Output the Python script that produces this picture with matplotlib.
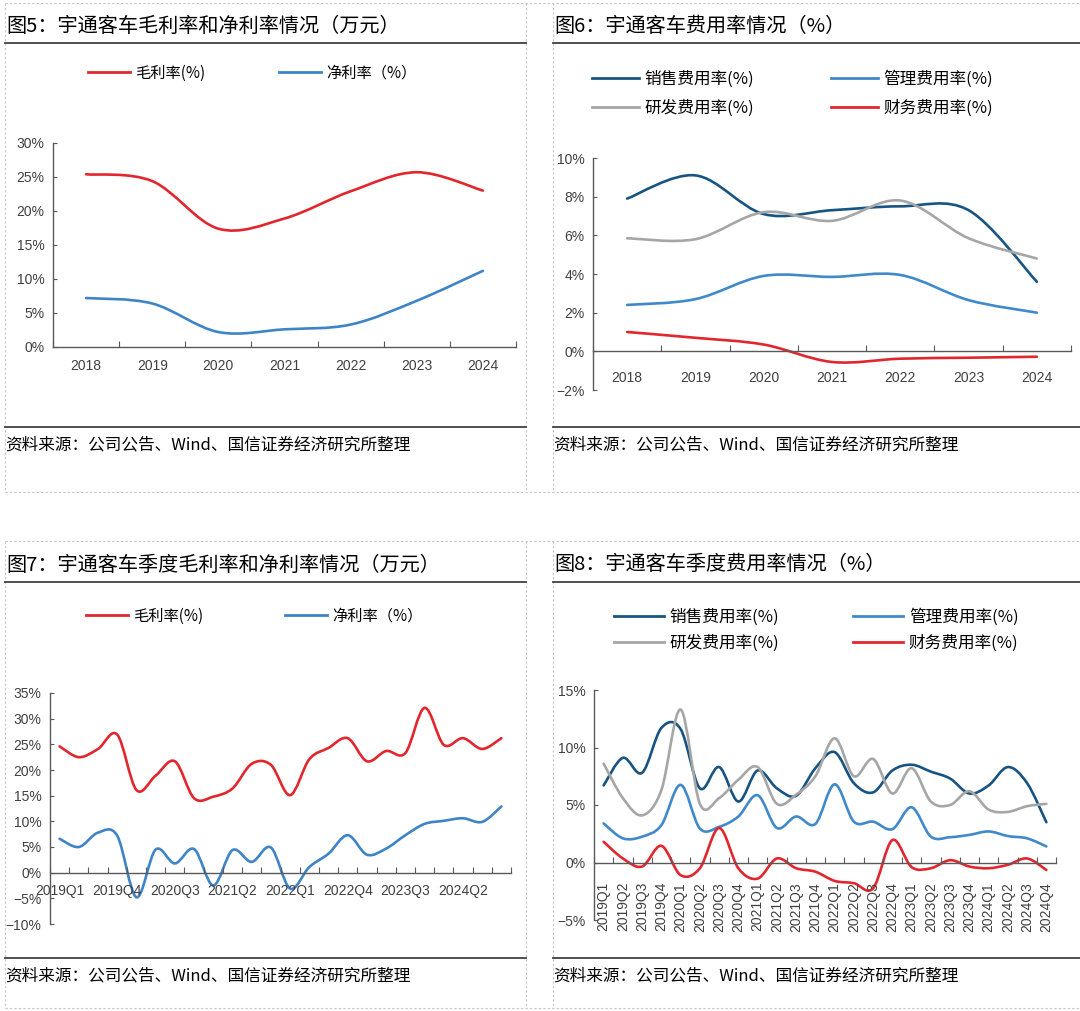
import numpy as np
import matplotlib
matplotlib.use('Agg')
import matplotlib.pyplot as plt
from matplotlib.path import Path
from matplotlib.patches import PathPatch
from matplotlib.lines import Line2D
from matplotlib.ticker import FuncFormatter

plt.rcParams['font.family'] = ['Liberation Sans', 'Noto Sans CJK SC']
CJK = ['Noto Sans CJK SC', 'DejaVu Sans']

# ---- data (percent) ----
years = ['2018', '2019', '2020', '2021', '2022', '2023', '2024']
gross_margin = [25.4, 24.4, 17.4, 18.9, 22.9, 25.7, 23.0]
net_margin = [7.2, 6.4, 2.2, 2.6, 3.3, 6.8, 11.2]

sales_exp = [7.9, 9.1, 7.1, 7.3, 7.5, 7.3, 3.6]
admin_exp = [2.4, 2.7, 3.9, 3.85, 3.95, 2.65, 2.0]
rd_exp = [5.85, 5.8, 7.2, 6.75, 7.8, 5.85, 4.8]
fin_exp = [1.0, 0.7, 0.35, -0.55, -0.38, -0.33, -0.28]

quarters = ['2019Q1', '2019Q2', '2019Q3', '2019Q4', '2020Q1', '2020Q2', '2020Q3', '2020Q4',
            '2021Q1', '2021Q2', '2021Q3', '2021Q4', '2022Q1', '2022Q2', '2022Q3', '2022Q4',
            '2023Q1', '2023Q2', '2023Q3', '2023Q4', '2024Q1', '2024Q2', '2024Q3', '2024Q4']
q_gross = [24.6, 22.5, 24.1, 26.9, 16.1, 18.9, 21.7, 14.5, 14.8, 16.4, 21.2, 21.0,
           15.1, 22.1, 24.3, 26.2, 21.7, 23.7, 23.3, 32.1, 24.9, 26.2, 24.1, 26.2]
q_net = [6.6, 5.0, 7.8, 7.2, -4.8, 4.5, 1.8, 4.6, -2.5, 4.4, 2.1, 4.9,
         -3.1, 1.1, 3.7, 7.3, 3.5, 4.7, 7.3, 9.5, 10.1, 10.6, 9.9, 12.9]

q_sales = [6.7, 9.1, 7.8, 11.7, 11.6, 6.45, 8.3, 5.3, 8.0, 6.45, 5.8, 8.2,
           9.6, 6.9, 6.1, 8.0, 8.5, 7.9, 7.3, 6.0, 6.7, 8.3, 6.9, 3.5]
q_admin = [3.4, 2.1, 2.25, 3.25, 6.75, 2.95, 3.1, 4.0, 5.85, 3.0, 4.0, 3.35,
           6.8, 3.55, 3.55, 2.9, 4.8, 2.25, 2.2, 2.4, 2.7, 2.3, 2.1, 1.4]
q_rd = [8.6, 5.6, 4.1, 6.3, 13.3, 5.1, 5.6, 7.2, 8.3, 5.1, 5.9, 7.5,
        10.8, 7.5, 9.0, 6.0, 8.2, 5.3, 5.0, 6.2, 4.6, 4.4, 4.9, 5.1]
q_fin = [1.8, 0.35, -0.35, 1.45, -1.1, -0.5, 3.0, -0.5, -1.4, 0.35, -0.5, -0.8,
         -1.6, -1.8, -2.25, 1.95, -0.4, -0.5, 0.2, -0.35, -0.5, -0.2, 0.35, -0.65]

RED = '#E2262E'
BLUE = '#3F84C7'
NAVY = '#185482'
LBLUE = '#4089CB'
GRAY = '#A6A6A6'
AXC = '#595959'
TXT = '#404040'

W, H = 1080, 1011
fig = plt.figure(figsize=(W / 100, H / 100), dpi=100)


def fx(px):
    return px / W


def fy(py):
    return 1 - py / H


def make_axes(x0, x1, ytop, ybot):
    return fig.add_axes([fx(x0), fy(ybot), (x1 - x0) / W, (ybot - ytop) / H])


# excel style smoothed line (catmull-rom as bezier)
def smooth_line(ax, ys, color, lw=1.9):
    pts = np.column_stack([np.arange(len(ys)), ys]).astype(float)
    n = len(pts)
    verts = [pts[0]]
    codes = [Path.MOVETO]
    for i in range(n - 1):
        p0 = pts[i - 1] if i > 0 else pts[i]
        p1 = pts[i]
        p2 = pts[i + 1]
        p3 = pts[i + 2] if i + 2 < n else pts[i + 1]
        verts += [p1 + (p2 - p0) / 6, p2 - (p3 - p1) / 6, p2]
        codes += [Path.CURVE4] * 3
    ax.add_patch(PathPatch(Path(verts, codes), facecolor='none', edgecolor=color,
                           lw=lw, capstyle='round', joinstyle='round'))


def setup(ax, cats, ylo, yhi, ystep, every=1, rot=0, xpad=4):
    n = len(cats)
    ax.set_xlim(-0.5, n - 0.5)
    ax.set_ylim(ylo, yhi)
    for s in ['top', 'right']:
        ax.spines[s].set_visible(False)
    for s in ['left', 'bottom']:
        ax.spines[s].set_color(AXC)
        ax.spines[s].set_linewidth(1.0)
    ax.spines['bottom'].set_position(('data', 0))
    ax.set_yticks(np.arange(ylo, yhi + 0.01, ystep))
    ax.yaxis.set_major_formatter(FuncFormatter(lambda v, p: ('%d%%' % round(v)).replace('-', '\u2212')))
    ax.tick_params(axis='y', direction='in', length=3, color=AXC, labelsize=10,
                   labelcolor=TXT, pad=6)
    ax.set_xticks(np.arange(-0.5, n, 1))
    ax.set_xticklabels([])
    ax.tick_params(axis='x', which='major', direction='in', length=4, color=AXC)
    centers = np.arange(0, n, every)
    ax.set_xticks(centers, minor=True)
    ax.set_xticklabels([cats[i] for i in centers], minor=True, rotation=rot)
    ax.tick_params(axis='x', which='minor', length=0, labelsize=10, labelcolor=TXT, pad=xpad)
    ax.patch.set_alpha(0)


def legend_col(entries, x, y, fs, hl, ls=0.3):
    handles = [Line2D([], [], color=c, lw=2.0) for c, _ in entries]
    fig.legend(handles, [t for _, t in entries], loc='center left',
               bbox_to_anchor=(fx(x), fy(y)), frameon=False, borderpad=0, borderaxespad=0,
               handlelength=hl, handletextpad=0.35, labelspacing=ls,
               prop={'family': CJK, 'size': fs})


def frame(x0, x1, ytitle, yline, ysrc, title):
    fig.text(fx(x0 + 1), fy(ytitle), title, family=CJK, fontsize=14.5, ha='left', va='center')
    fig.add_artist(Line2D([fx(x0), fx(x1)], [fy(ytitle + 17), fy(ytitle + 17)],
                          color='#404040', lw=1.3))
    fig.add_artist(Line2D([fx(x0), fx(x1)], [fy(yline), fy(yline)], color='#404040', lw=1.3))
    fig.text(fx(x0), fy(ysrc), '资料来源：公司公告、Wind、国信证券经济研究所整理',
             family=CJK, fontsize=12, ha='left', va='center')


# dashed page borders
dash = dict(color='#C4C4C4', lw=0.8, linestyle=(0, (2, 2)))
for top, bot in [(3, 492), (541, 1008)]:
    fig.add_artist(Line2D([fx(5), fx(1080)], [fy(top), fy(top)], **dash))
    fig.add_artist(Line2D([fx(5), fx(1080)], [fy(bot), fy(bot)], **dash))
    for xv in [5, 526, 553]:
        fig.add_artist(Line2D([fx(xv), fx(xv)], [fy(top), fy(bot)], **dash))

# ---- panel 1 ----
frame(5, 526, 26, 427, 445, '图5：宇通客车毛利率和净利率情况（万元）')
ax1 = make_axes(53, 516, 143, 347)
setup(ax1, years, 0, 30, 5, xpad=9)
smooth_line(ax1, gross_margin, RED)
smooth_line(ax1, net_margin, BLUE)
legend_col([(RED, '毛利率(%)')], 88, 73, 11, 2.75)
legend_col([(BLUE, '净利率（%）')], 279, 73, 11, 2.75)

# ---- panel 2 ----
frame(553, 1080, 26, 427, 445, '图6：宇通客车费用率情况（%）')
ax2 = make_axes(593, 1071, 158, 390)
setup(ax2, years, -2, 10, 2, xpad=14)
smooth_line(ax2, sales_exp, NAVY)
smooth_line(ax2, admin_exp, LBLUE)
smooth_line(ax2, rd_exp, GRAY)
smooth_line(ax2, fin_exp, RED)
legend_col([(NAVY, '销售费用率(%)'), (GRAY, '研发费用率(%)')], 592, 93.5, 12, 2.8, ls=0.72)
legend_col([(LBLUE, '管理费用率(%)'), (RED, '财务费用率(%)')], 831, 93.5, 12, 2.8, ls=0.72)

# ---- panel 3 ----
frame(5, 526, 565, 958, 976, '图7：宇通客车季度毛利率和净利率情况（万元）')
ax3 = make_axes(50, 511, 693, 924)
setup(ax3, quarters, -10, 35, 5, every=3, xpad=8)
smooth_line(ax3, q_gross, RED)
smooth_line(ax3, q_net, BLUE)
legend_col([(RED, '毛利率(%)')], 86, 616, 11, 2.75)
legend_col([(BLUE, '净利率（%）')], 285, 616, 11, 2.75)

# ---- panel 4 ----
frame(553, 1080, 565, 958, 976, '图8：宇通客车季度费用率情况（%）')
ax4 = make_axes(594, 1056, 690, 920)
setup(ax4, quarters, -5, 15, 5, rot=90, xpad=14)
smooth_line(ax4, q_sales, NAVY)
smooth_line(ax4, q_admin, LBLUE)
smooth_line(ax4, q_rd, GRAY)
smooth_line(ax4, q_fin, RED)
legend_col([(NAVY, '销售费用率(%)'), (GRAY, '研发费用率(%)')], 614, 630, 12, 3.0, ls=0.5)
legend_col([(LBLUE, '管理费用率(%)'), (RED, '财务费用率(%)')], 853, 630, 12, 3.0, ls=0.5)

fig.savefig('out.png', dpi=100, facecolor='white')
